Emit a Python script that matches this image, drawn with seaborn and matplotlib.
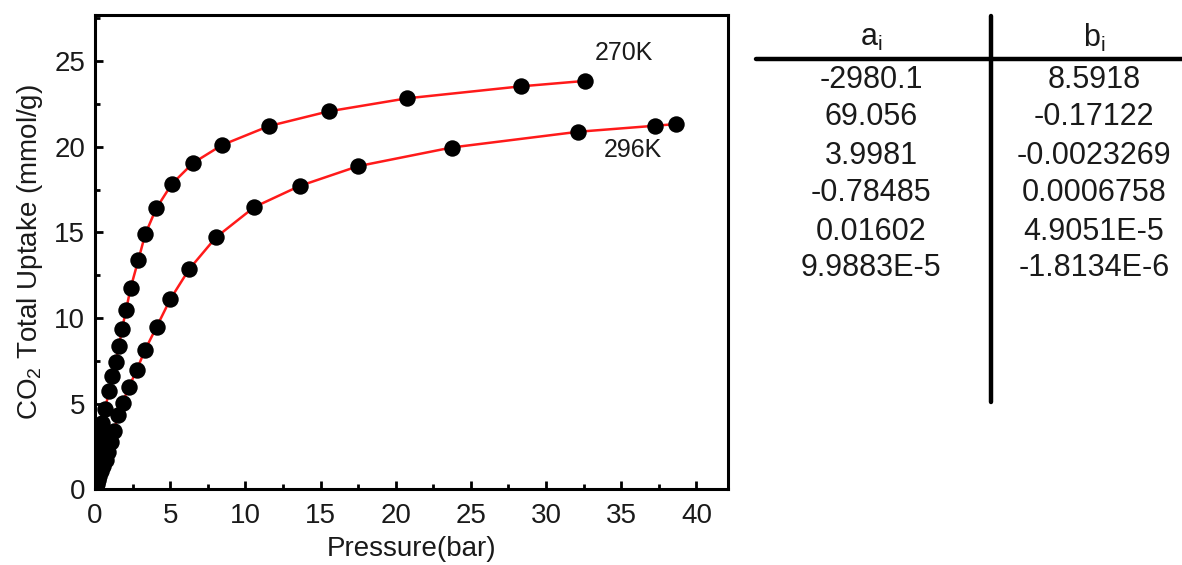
import matplotlib
matplotlib.use("Agg")
import matplotlib.pyplot as plt
from matplotlib.lines import Line2D
from matplotlib.ticker import MultipleLocator
import seaborn as sns
import pandas as pd

# CO2 uptake isotherms (pressure in bar, uptake in mmol/g)
pressure_270K = [0.02, 0.05, 0.09, 0.14, 0.20, 0.27, 0.35, 0.45, 0.66, 0.95,
                 1.15, 1.37, 1.59, 1.79, 2.06, 2.37, 2.88, 3.34, 4.07, 5.10,
                 6.51, 8.44, 11.56, 15.53, 20.73, 28.3, 32.6]
uptake_270K = [0.3, 0.7, 1.2, 1.7, 2.2, 2.8, 3.3, 3.9, 4.7, 5.76,
               6.61, 7.41, 8.37, 9.34, 10.45, 11.77, 13.39, 14.9, 16.4, 17.82,
               19.05, 20.1, 21.21, 22.07, 22.83, 23.53, 23.85]

pressure_296K = [0.04, 0.10, 0.18, 0.28, 0.40, 0.55, 0.71, 0.89, 1.06, 1.24,
                 1.55, 1.84, 2.26, 2.77, 3.32, 4.10, 5.00, 6.25, 8.04, 10.59,
                 13.6, 17.5, 23.72, 32.14, 37.23, 38.67]
uptake_296K = [0.12, 0.3, 0.52, 0.78, 1.05, 1.35, 1.7, 2.2, 2.75, 3.4,
               4.34, 5.06, 5.99, 6.96, 8.13, 9.49, 11.09, 12.84, 14.71, 16.48,
               17.71, 18.87, 19.96, 20.88, 21.23, 21.33]

# Virial coefficients
coef_a = ["-2980.1", "69.056", "3.9981", "-0.78485", "0.01602", "9.9883E-5"]
coef_b = ["8.5918", "-0.17122", "-0.0023269", "0.0006758", "4.9051E-5", "-1.8134E-6"]

sns.set_theme(style="ticks")
plt.rcParams["font.family"] = ["Liberation Sans", "DejaVu Sans"]
plt.rcParams["mathtext.default"] = "regular"

df = pd.concat([
    pd.DataFrame({"p": pressure_270K, "q": uptake_270K, "T": "270K"}),
    pd.DataFrame({"p": pressure_296K, "q": uptake_296K, "T": "296K"}),
])

fig = plt.figure(figsize=(11.82, 5.65), dpi=100)
ax = fig.add_axes([0.0804, 0.134, 0.5355, 0.8395])

sns.lineplot(data=df, x="p", y="q", units="T", estimator=None, sort=True,
             color="#ff1a1a", linewidth=1.8, ax=ax, legend=False, zorder=2)
sns.scatterplot(data=df, x="p", y="q", color="black", s=140, edgecolor="black",
                linewidth=0, ax=ax, legend=False, zorder=3)

ax.set_xlim(0, 42.1)
ax.set_ylim(0, 27.7)
ax.xaxis.set_major_locator(MultipleLocator(5))
ax.xaxis.set_minor_locator(MultipleLocator(2.5))
ax.yaxis.set_major_locator(MultipleLocator(5))
ax.yaxis.set_minor_locator(MultipleLocator(2.5))
ax.tick_params(which="both", direction="in", width=2.0, colors="black",
               labelsize=20, labelcolor="#1a1a1a", top=False, right=False)
ax.tick_params(which="major", length=5.5)
ax.tick_params(which="minor", length=3.5)
ax.tick_params(axis="x", pad=10)
ax.tick_params(axis="y", pad=7)
for side in ["left", "right", "top", "bottom"]:
    ax.spines[side].set_visible(True)
    ax.spines[side].set_linewidth(2.2)
    ax.spines[side].set_color("black")

ax.set_xlabel("Pressure(bar)", fontsize=20, color="#1a1a1a", labelpad=5)
ax.set_ylabel("CO$_2$ Total Uptake (mmol/g)", fontsize=20, color="#1a1a1a", labelpad=7)

ax.text(35.2, 25.5, "270K", fontsize=18, ha="center", va="center", color="#1a1a1a")
ax.text(35.8, 19.8, "296K", fontsize=18, ha="center", va="center", color="#1a1a1a")

# Coefficient table
fig.add_artist(Line2D([0.640, 1.0], [0.896, 0.896], color="black", linewidth=3.2,
                      transform=fig.transFigure))
fig.add_artist(Line2D([0.838, 0.838], [0.972, 0.289], color="black", linewidth=3.2,
                      transform=fig.transFigure))
col_a, col_b = 0.737, 0.9255
fig.text(col_a, 0.933, "a$_i$", fontsize=22, ha="center", va="center", color="#1a1a1a")
fig.text(col_b, 0.933, "b$_i$", fontsize=22, ha="center", va="center", color="#1a1a1a")
row_y = [80, 116.7, 155.5, 193.3, 231.5, 268.3]
for ry, a, b in zip(row_y, coef_a, coef_b):
    fy = 1 - ry / 565
    fig.text(col_a, fy, a, fontsize=22, ha="center", va="center", color="#1a1a1a")
    fig.text(col_b, fy, b, fontsize=22, ha="center", va="center", color="#1a1a1a")

fig.savefig("out.png", dpi=100, facecolor="white")
